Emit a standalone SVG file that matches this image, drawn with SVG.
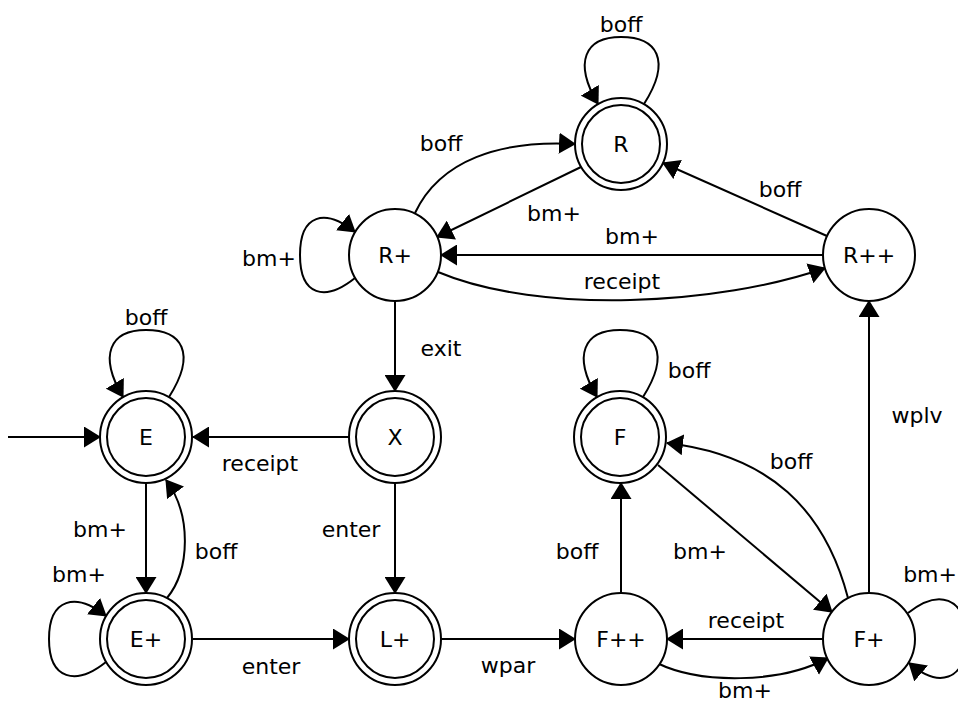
<svg xmlns="http://www.w3.org/2000/svg" width="958" height="717" viewBox="0 0 958 717">
  <style>
    .st { fill: #fff; stroke: #000; stroke-width: 2; }
    .ring { fill: none; stroke: #000; stroke-width: 2; }
    .e { fill: none; stroke: #000; stroke-width: 2; marker-end: url(#ah); }
    text { font-family: "DejaVu Sans", Verdana, sans-serif; font-size: 22px; fill: #000; text-anchor: middle; }
  </style>
  <defs>
    <marker id="ah" markerUnits="userSpaceOnUse" viewBox="0 0 17 21" markerWidth="17" markerHeight="21" refX="16" refY="10.5" orient="auto">
      <path d="M0,0 L17,10.5 L0,21 z" fill="#000"/>
    </marker>
  </defs>
  <rect width="958" height="717" fill="#fff"/>

  <!-- transitions -->
  <g id="edges">
    <!-- start arrow -->
    <path class="e" d="M8 437 H100"/>
    <!-- self loops -->
    <path class="e" d="M644 104 C672 60 657 37 621 37 C585 37 573 62 598 104"/>
    <path class="e" d="M169 397 C197 353 182 330 146 330 C110 330 98 355 123 397"/>
    <path class="e" d="M643 397 C671 353 656 330 620 330 C584 330 572 355 597 397"/>
    <path class="e" d="M355 278 C325 302 300 296 300 255 C300 214 325 208 355 232"/>
    <path class="e" d="M106 662 C76 686 49 680 49 639 C49 598 76 592 106 616"/>
    <path class="e" d="M908 613 C938 589 966 596 966 639 C966 682 938 688 909 663"/>
    <!-- R region -->
    <path class="e" d="M415 213 C440 160 500 140 575 144"/>
    <path class="e" d="M581 167 L437 237"/>
    <path class="e" d="M827 236 L663 163"/>
    <path class="e" d="M823 255 L441 255"/>
    <path class="e" d="M438 272 C540 315 720 305 825 268"/>
    <path class="e" d="M395 301 L395 391"/>
    <!-- E / X / L+ -->
    <path class="e" d="M349 437 L193 437"/>
    <path class="e" d="M146 483 L146 593"/>
    <path class="e" d="M167 598 C190 570 192 515 166 480"/>
    <path class="e" d="M193 639 L349 639"/>
    <path class="e" d="M395 483 L395 593"/>
    <path class="e" d="M441 639 L575 639"/>
    <!-- F region -->
    <path class="e" d="M621 593 L621 483"/>
    <path class="e" d="M658 465 L832 612"/>
    <path class="e" d="M848 598 C825 510 770 455 667 443"/>
    <path class="e" d="M823 639 L667 639"/>
    <path class="e" d="M657 663 C700 684 780 684 828 658"/>
    <path class="e" d="M869 593 L869 301"/>
  </g>

  <!-- transition labels -->
  <g id="edge-labels">
    <text x="621" y="32">boff</text>
    <text x="441" y="151">boff</text>
    <text x="554" y="221">bm+</text>
    <text x="780" y="197">boff</text>
    <text x="632" y="244">bm+</text>
    <text x="622" y="289">receipt</text>
    <text x="269" y="266">bm+</text>
    <text x="441" y="356">exit</text>
    <text x="146" y="325">boff</text>
    <text x="260" y="471">receipt</text>
    <text x="100" y="537">bm+</text>
    <text x="351" y="537">enter</text>
    <text x="216" y="559">boff</text>
    <text x="79" y="582">bm+</text>
    <text x="271" y="674">enter</text>
    <text x="508" y="673">wpar</text>
    <text x="577" y="559">boff</text>
    <text x="689" y="378">boff</text>
    <text x="791" y="469">boff</text>
    <text x="700" y="559">bm+</text>
    <text x="746" y="628">receipt</text>
    <text x="745" y="698">bm+</text>
    <text x="957" y="582" style="text-anchor:end">bm+</text>
    <text x="917" y="423">wplv</text>
  </g>

  <!-- states -->
  <g id="R"><circle class="st" cx="621" cy="144" r="46"/><circle class="ring" cx="621" cy="144" r="39"/><text x="621" y="152">R</text></g>
  <g id="Rp"><circle class="st" cx="395" cy="255" r="46"/><text x="395" y="263">R+</text></g>
  <g id="Rpp"><circle class="st" cx="869" cy="255" r="46"/><text x="869" y="263">R++</text></g>
  <g id="E"><circle class="st" cx="146" cy="437" r="46"/><circle class="ring" cx="146" cy="437" r="39"/><text x="146" y="445">E</text></g>
  <g id="X"><circle class="st" cx="395" cy="437" r="46"/><circle class="ring" cx="395" cy="437" r="39"/><text x="395" y="445">X</text></g>
  <g id="F"><circle class="st" cx="620" cy="437" r="46"/><circle class="ring" cx="620" cy="437" r="39"/><text x="620" y="445">F</text></g>
  <g id="Ep"><circle class="st" cx="146" cy="639" r="46"/><circle class="ring" cx="146" cy="639" r="39"/><text x="146" y="647">E+</text></g>
  <g id="Lp"><circle class="st" cx="395" cy="639" r="46"/><circle class="ring" cx="395" cy="639" r="39"/><text x="395" y="647">L+</text></g>
  <g id="Fpp"><circle class="st" cx="621" cy="639" r="46"/><text x="621" y="647">F++</text></g>
  <g id="Fp"><circle class="st" cx="869" cy="639" r="46"/><text x="869" y="647">F+</text></g>
</svg>
